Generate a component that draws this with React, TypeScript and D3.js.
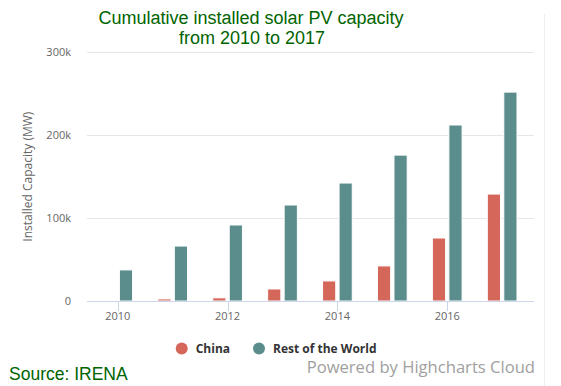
import React, { useRef, useEffect } from 'react';
import * as d3 from 'd3';

const years: number[] = [2010, 2011, 2012, 2013, 2014, 2015, 2016, 2017];
const seriesNames: string[] = ['China', 'Rest of the World'];
const chinaValues: number[] = [800, 2500, 3800, 14500, 24200, 42300, 76000, 129000];
const restValues: number[] = [37500, 66300, 91700, 115800, 142300, 176000, 212300, 252000];
const yTicks: number[] = [0, 100000, 200000, 300000];
const xTickYears: number[] = [2010, 2012, 2014, 2016];
const colors: string[] = ['#d4665a', '#5b8d8d'];

const App: React.FC = () => {
  const svgRef = useRef<SVGSVGElement>(null);

  useEffect(() => {
    if (!svgRef.current) return;
    const svg = d3.select(svgRef.current);
    svg.selectAll('*').remove();

    const left = 87, right = 534, top = 52.3, bottom = 301;
    const font = '"Open Sans", sans-serif';

    const x = d3.scaleLinear().domain([2009.44, 2017.58]).range([left, right]);
    const y = d3.scaleLinear().domain([0, 300000]).range([bottom, top]);
    const inner = d3.scaleBand<string>()
      .domain(seriesNames)
      .range([-16.5, 16.5])
      .paddingInner(0.2)
      .paddingOuter(0.1);

    // right border line
    svg.append('line')
      .attr('x1', 544.5).attr('x2', 544.5).attr('y1', 14).attr('y2', 386)
      .attr('stroke', '#eeeeee');

    // gridlines
    svg.append('g').selectAll('line')
      .data(yTicks.filter(t => t > 0))
      .enter().append('line')
      .attr('x1', left).attr('x2', right)
      .attr('y1', d => Math.round(y(d)) + 0.5).attr('y2', d => Math.round(y(d)) + 0.5)
      .attr('stroke', '#e6e6e6');

    // y labels
    svg.append('g').selectAll('text')
      .data(yTicks)
      .enter().append('text')
      .attr('x', 71).attr('y', d => y(d) + 4)
      .attr('text-anchor', 'end')
      .attr('font-family', font).attr('font-size', 11)
      .attr('fill', '#666666')
      .text(d => d === 0 ? '0' : `${d / 1000}k`);

    // y title
    svg.append('text')
      .attr('transform', `translate(32,${(top + bottom) / 2}) rotate(-90)`)
      .attr('text-anchor', 'middle')
      .attr('font-family', font).attr('font-size', 12)
      .attr('fill', '#666666')
      .text('Installed Capacity (MW)');

    // bars
    const data = [chinaValues, restValues];
    data.forEach((vals, si) => {
      svg.append('g').selectAll('rect')
        .data(vals)
        .enter().append('rect')
        .attr('x', (_, i) => x(years[i]) + (inner(seriesNames[si]) || 0))
        .attr('y', d => y(d))
        .attr('width', inner.bandwidth())
        .attr('height', d => bottom - y(d))
        .attr('fill', colors[si])
        .attr('stroke', '#ffffff')
        .attr('stroke-width', 1);
    });

    // x axis
    svg.append('line')
      .attr('x1', left).attr('x2', right)
      .attr('y1', bottom + 0.5).attr('y2', bottom + 0.5)
      .attr('stroke', '#ccd6eb');
    const xt = svg.append('g');
    xt.selectAll('line')
      .data(xTickYears)
      .enter().append('line')
      .attr('x1', d => Math.round(x(d)) + 0.5).attr('x2', d => Math.round(x(d)) + 0.5)
      .attr('y1', bottom).attr('y2', bottom + 10)
      .attr('stroke', '#ccd6eb');
    xt.selectAll('text')
      .data(xTickYears)
      .enter().append('text')
      .attr('x', d => x(d)).attr('y', 320)
      .attr('text-anchor', 'middle')
      .attr('font-family', font).attr('font-size', 11)
      .attr('fill', '#666666')
      .text(d => String(d));

    // title
    const title = svg.append('text')
      .attr('text-anchor', 'middle')
      .attr('font-family', '"Liberation Sans", Arial, sans-serif')
      .attr('font-size', 18)
      .attr('fill', '#006400');
    title.append('tspan').attr('x', 251).attr('y', 23.5).text('Cumulative installed solar PV capacity');
    title.append('tspan').attr('x', 252).attr('y', 43.7).text('from 2010 to 2017');

    // legend
    const legendX = [181.7, 259];
    seriesNames.forEach((name, i) => {
      svg.append('circle')
        .attr('cx', legendX[i]).attr('cy', 348.5).attr('r', 6)
        .attr('fill', colors[i]);
      svg.append('text')
        .attr('x', legendX[i] + 14).attr('y', 353)
        .attr('font-family', font).attr('font-size', 12).attr('font-weight', 'bold')
        .attr('fill', '#333333')
        .text(name);
    });

    // source
    svg.append('text')
      .attr('x', 9).attr('y', 380)
      .attr('font-family', '"Liberation Sans", Arial, sans-serif')
      .attr('font-size', 17.5)
      .attr('fill', '#006400')
      .text('Source: IRENA');

    // credits
    svg.append('text')
      .attr('x', 535).attr('y', 373)
      .attr('text-anchor', 'end')
      .attr('font-family', font).attr('font-size', 16.6)
      .attr('fill', '#a0a0a0')
      .text('Powered by Highcharts Cloud');
  }, []);

  return (
    <svg ref={svgRef} width={561} height={386}
      style={{ position: 'absolute', left: 0, top: 0, background: '#ffffff' }} />
  );
};

export default App;
